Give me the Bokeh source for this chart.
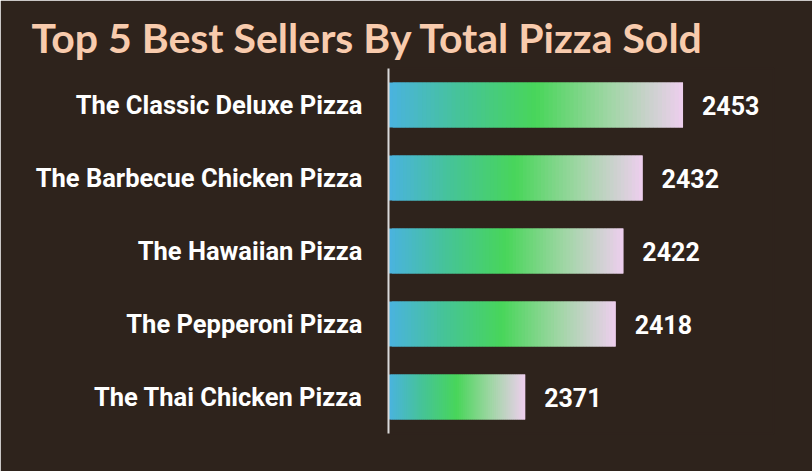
from bokeh.plotting import figure
from bokeh.models import ColumnDataSource, Title
from bokeh.core.properties import value
from bokeh.embed import file_html
from bokeh.resources import INLINE

# ---- data ----
pizzas = ["The Classic Deluxe Pizza", "The Barbecue Chicken Pizza", "The Hawaiian Pizza",
          "The Pepperoni Pizza", "The Thai Chicken Pizza"]
total_sold = [2453, 2432, 2422, 2418, 2371]
axis_min = 2300
axis_max = 2500
title_text = "Top 5 Best Sellers By Total Pizza Sold"

BG = "#2e231c"

# gradient stops (position, rgb)
stops = [(0.0, (74, 178, 224)), (0.25, (70, 196, 150)), (0.5, (72, 214, 90)),
         (0.75, (160, 214, 165)), (1.0, (238, 206, 238))]

def grad(t):
    for (p0, c0), (p1, c1) in zip(stops[:-1], stops[1:]):
        if t <= p1:
            f = (t - p0) / (p1 - p0)
            return "#%02x%02x%02x" % tuple(int(round(a + (b - a) * f)) for a, b in zip(c0, c1))
    return "#%02x%02x%02x" % stops[-1][1]

# gradient slices, each overlapping the next one so no seams show
N = 70
seg_y, seg_l, seg_r, seg_c = [], [], [], []
for i in range(N):
    for name, v in zip(pizzas, total_sold):
        w = (v - axis_min) / N
        seg_y.append(name)
        seg_l.append(axis_min + w * i)
        seg_r.append(min(axis_min + w * (i + 2), v))
        seg_c.append(grad((i + 0.5) / N))

seg_src = ColumnDataSource(dict(y=seg_y, left=seg_l, right=seg_r, color=seg_c))
lbl_src = ColumnDataSource(dict(y=pizzas, x=total_sold, text=[str(v) for v in total_sold]))

p = figure(width=812, height=471, output_backend="svg", toolbar_location=None,
           y_range=list(reversed(pizzas)), x_range=(axis_min, axis_max),
           min_border_left=388, min_border_right=39, min_border_top=68, min_border_bottom=38)

p.background_fill_color = BG
p.border_fill_color = BG
p.outline_line_color = BG
p.outline_line_width = 2
p.grid.visible = False

p.hbar(y="y", left="left", right="right", height=45 / 73, fill_color="color",
       line_color=None, source=seg_src)

p.text(x="x", y="y", text="text", source=lbl_src, x_offset=19, text_align="left",
       text_baseline="middle", text_color="white", text_font=value("Roboto"),
       text_font_style="bold", text_font_size="25px")

p.xaxis.visible = False
ya = p.yaxis[0]
ya.axis_line_color = "#d9d9d9"
ya.axis_line_width = 2
ya.major_tick_line_color = None
ya.minor_tick_line_color = None
ya.major_label_text_color = "white"
ya.major_label_text_font = "Roboto"
ya.major_label_text_font_style = "bold"
ya.major_label_text_font_size = "25.5px"
ya.major_label_standoff = 20

p.title = Title(text=title_text, align="left", offset=-357, standoff=10,
                vertical_align="top",
                text_color="#f8cbad", text_font="Lato", text_font_style="bold",
                text_font_size="41px")

open("out.html", "w").write(file_html(p, INLINE))
